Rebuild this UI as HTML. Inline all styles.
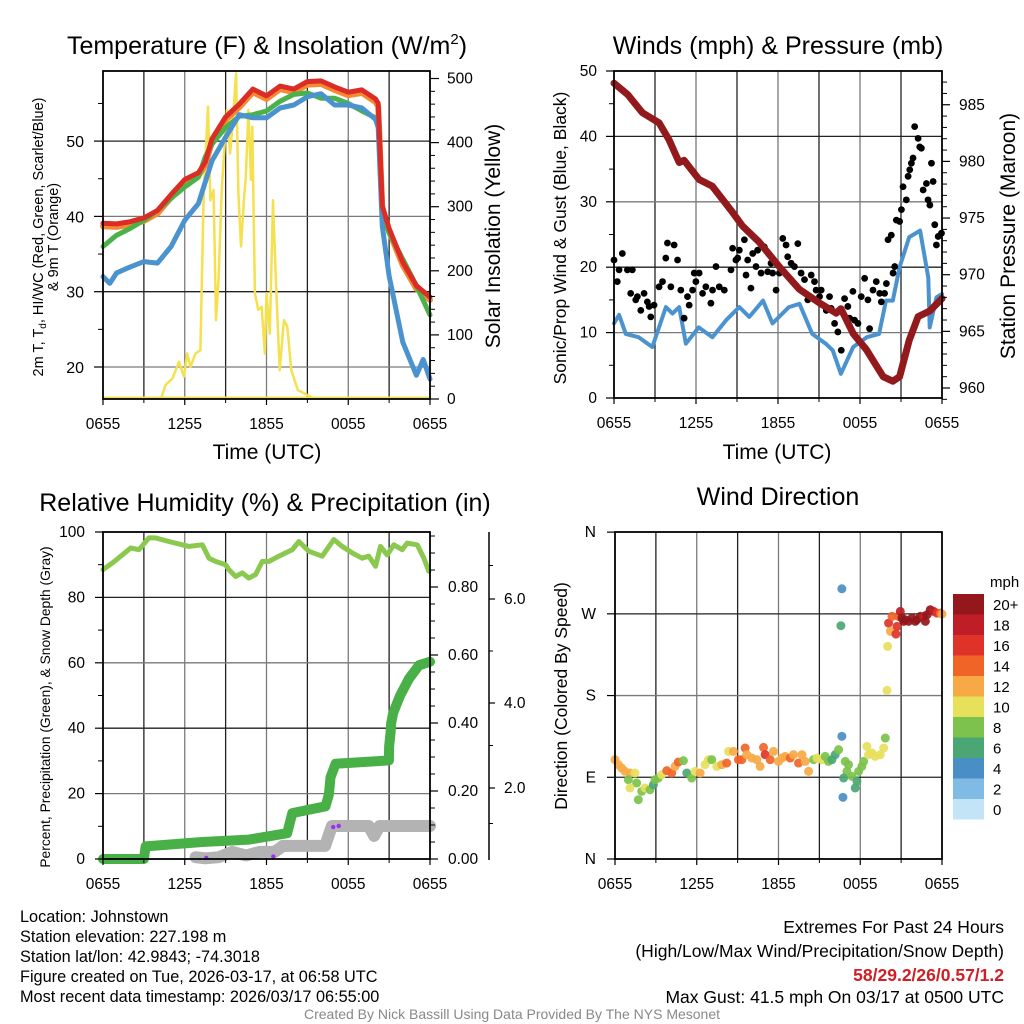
<!DOCTYPE html>
<html><head><meta charset="utf-8"><style>
html,body{margin:0;padding:0;background:#fff;}
svg{display:block;font-family:"Liberation Sans",sans-serif;}
</style></head><body>
<svg id="c" width="1024" height="1024" viewBox="0 0 1024 1024" xmlns="http://www.w3.org/2000/svg"></svg>
<script>
// ===== Panel 1 data: temperature & insolation =====
const tHours = [0,1,2,3,4,5,6,7,7.5,8,9,10,11,12,13,14,15,16,17,18,19,20,20.2,20.5,21,22,23,24];
const tempRed = [39.1,39,39.3,39.8,40.8,42.9,44.9,45.8,47.2,50.3,53.2,54.9,56.9,56,57.3,56.9,57.9,58,57.2,56.5,56.8,55.6,55,41.4,38.4,33.9,30.8,29.3];
const tempGreen = [36,37.5,38.4,39.5,40.8,42.4,43.9,45.2,47.9,49.6,51.8,53.3,53.5,54,55.3,56.2,56.4,55.7,55.7,55,54,53.1,52.6,40.4,37.8,34.3,30.8,26.9];
const dewBlueHours = [0,0.5,1,2,3,4,5,6,7,8,9,10,11,12,13,14,15,16,17,18,19,20,20.2,20.5,21,22,23,23.5,24];
const dewBlue = [32,31.1,32.5,33.3,34,33.8,36,39.5,41.7,47.4,50.5,53.5,53.1,53.1,54.4,54.8,55.9,56.3,54.8,54.8,54.4,52.9,51.8,38.7,32.1,23.3,18.9,21,18.4];
const solarHours = [0,4.24,4.6,5.09,5.58,5.94,6.18,6.42,6.79,7.15,7.39,7.71,7.88,8.12,8.29,8.48,8.73,9.09,9.33,9.5,9.77,9.94,10.13,10.38,10.47,10.67,10.86,10.96,11.15,11.39,11.64,11.88,12.0,12.24,12.48,12.73,12.97,13.28,13.53,13.82,14.3,15.03,15.5,24];
const solar = [0,0,22,32,58,35,71,50,71,76,321,456,310,326,123,186,331,451,383,425,508,321,238,321,342,451,342,425,165,139,144,71,165,102,310,165,45,123,113,45,14,6,0,0];
const tempTicks = [20,30,40,50];
const solarTicks = [0,100,200,300,400,500];
const timeTicks = ["0655","1255","1855","0055","0655"];
// ===== Panel 2 data: winds & pressure =====
const presHours = [0,1,2.08,3.3,4.03,4.77,5.13,6.23,7.2,8.68,9.4,10.6,12.1,13.57,15.04,16.26,16.6,17.5,18.46,19.7,20.4,20.9,21.6,22.25,23.1,24];
const pressure = [986.9,985.9,984.3,983.4,981.9,979.9,980.1,978.4,977.8,975.5,974.3,972.9,970.7,968.7,967.5,966.6,967.0,964.8,963.4,961,960.6,961,964.2,966.3,966.8,967.9];
const windHours = [0,0.37,0.86,1.8,2.8,3.8,4.28,4.77,5.26,6.2,7.2,8.2,9.17,9.9,10.9,11.6,12.8,13.57,14.5,15.5,16,16.6,17.5,18.5,19.4,19.9,20.4,20.9,21.6,22.4,23,23.1,23.6,24];
const windSpeed = [11.4,12.7,9.8,9.3,7.8,13.9,12.9,13.9,8.3,10.8,9.3,11.9,13.9,12.4,14.9,11.4,13.9,14.4,9.8,8.3,7.3,3.7,7.8,9.3,9.8,14.9,14.9,20,24.6,25.6,18.4,10.8,15.4,15.9];
const gustHours = [0,0.24,0.61,0.98,1.34,1.22,1.59,1.96,2.2,2.57,2.69,2.93,3.3,3.55,3.91,4.16,4.4,4.65,4.89,5.13,5.38,5.75,5.99,6.23,6.48,6.72,7.09,7.46,7.7,8.07,8.56,8.68,8.92,9.17,9.54,9.66,10.02,10.15,10.51,10.76,11.0,11.25,11.49,11.86,12.1,12.35,12.59,12.96,13.45,13.69,13.94,14.18,14.43,14.79,15.16,15.53,15.89,16.14,16.38,16.63,16.87,17.11,17.48,17.85,18.09,18.34,18.7,18.95,19.19,19.56,19.8,20.05,20.29,20.42,20.66,20.9,21.15,21.39,21.64,21.88,22.0,22.25,22.49,22.62,22.86,23.11,23.23,23.47,23.72,23.96,0.37,1.71,2.44,3.79,5.5,5.87,7.21,9.05,9.78,10.39,11.61,12.71,13.2,14.67,15.04,15.77,17.24,17.6,18.58,19.44,19.93,20.54,21.03,21.52,21.76,22.37,22.98,23.35,23.59];
const gustSpeed = [21.1,17.8,22.1,19.6,19.6,16.0,15.0,13.4,16.0,14.0,12.4,14.2,17.0,17.8,23.7,17.0,23.4,21.1,16.5,12.2,15.5,16.5,17.8,19.1,16.0,17.0,14.5,20.1,17.0,16.5,19.6,22.9,21.1,22.6,24.2,18.8,16.8,22.1,22.6,19.1,23.1,19.3,20.6,16.5,19.1,24.4,23.4,20.6,23.6,19.1,18.1,15.0,18.8,16.5,16.5,13.4,13.7,11.4,10.1,7.3,15.2,14.0,16.3,11.4,15.5,18.3,10.6,16.5,17.8,14.7,16.0,24.2,24.9,19.1,27.2,27.0,32.3,30.3,34.9,36.7,41.5,39.7,38.2,31.8,32.8,29.5,35.9,26.5,24.7,25.2,19.6,15.5,14.7,21.4,14.2,19.1,16.5,21.4,21.1,20.1,19.1,21.6,20.1,17.8,15.5,15.5,12.2,11.9,15.0,16.0,17.5,20.1,28.8,33.9,35.9,38.4,30.3,33.1,23.4];
const windTicks = [0,10,20,30,40,50];
const presTicks = [960,965,970,975,980,985];
// ===== Panel 3 data: RH, precipitation, snow =====
const rhHours = [0,0.68,1.3,2.03,2.64,3.37,3.86,4.84,5.82,6.31,7.29,7.78,8.26,9.0,9.24,9.73,10.22,10.71,11.2,11.69,12.18,12.91,13.4,13.89,14.38,15.11,16.09,16.94,17.55,18.29,19.02,19.51,20.0,20.37,20.86,21.34,21.96,22.32,23.06,23.55,23.91];
const rh = [88.5,90.5,92.6,95.1,94.6,98.2,98.2,97.1,96.1,95.6,96.1,92,91,90,88.5,86.4,87.5,85.9,87,91,91,92.6,93.6,94.6,97.1,94.1,92.6,97.7,95.6,93.6,92,92.6,89.5,95.6,93,96.1,94.6,96.6,96.1,92,88];
const precipHours = [0,3.0,3.13,7.29,10.71,13.52,13.89,16.33,16.58,16.7,17.07,20.98,21.0,21.1,21.15,21.3,21.8,22.45,23.2,24];
const precip = [0,0,0.037,0.05,0.057,0.076,0.135,0.155,0.19,0.24,0.28,0.29,0.33,0.37,0.40,0.43,0.48,0.53,0.57,0.58];
const snowHours = [6.8,7.5,8.5,9.5,10.5,11.5,12.6,13.2,16.3,16.8,19.5,19.9,20.3,24];
const snowDepth = [0.05,0.02,0.05,0.2,0.1,0.2,0.2,0.37,0.37,0.93,0.93,0.65,0.93,0.93];
const pctTicks = [0,20,40,60,80,100];
const precipTicks = ["0.00","0.20","0.40","0.60","0.80"];
const snowTicks = ["2.0","4.0","6.0"];
// ===== Panel 4 data: wind direction =====
const dirHours = [0,0.24,0.49,0.73,1.1,1.47,0.98,1.59,1.1,1.71,1.96,2.2,2.57,2.82,2.94,3.18,3.43,3.8,4.16,4.41,4.65,5.02,5.27,5.63,5.88,6.25,6.61,6.86,7.1,7.47,7.84,8.2,8.33,8.69,9.06,9.31,9.55,9.67,10.04,10.41,10.65,10.9,11.02,11.39,11.63,12.0,12.25,12.49,12.86,13.1,13.47,13.72,13.96,14.21,14.57,14.82,15.18,15.43,15.67,15.92,16.16,16.41,16.65,16.58,16.65,16.9,17.02,16.78,17.14,17.39,17.63,17.76,17.88,18.12,18.25,18.49,18.61,18.86,19.1,19.47,19.72,19.84,16.73,19.96,20.01,20.08,20.21,20.33,20.62,20.7,20.82,20.94,21.06,21.19,21.31,21.55,21.8,22.04,22.16,22.41,22.65,22.78,22.9,23.14,23.39,23.63,23.88,24];
const dirDeg = [109.4,103.9,100.2,96.5,94.7,94.7,87.3,83.7,78.2,65.3,74.5,78.2,76.3,81.8,87.3,89.2,92.9,97.3,94.7,102,106.8,108.3,94.7,89.2,96.5,94.7,103.9,109.4,109.4,102,103.9,105.7,118.5,118.5,109.4,109.4,122.2,114.9,111.2,109.4,102,122.9,114.9,109.4,118.5,107.5,111.2,113,111.2,114.9,105.7,114.9,107.5,96.5,109.4,111.2,109.4,113,107.5,109.4,114.9,120.4,135.1,256.9,297.6,107.5,96.5,89.2,103.9,91,78.2,85.5,96.5,102,107.5,124,114.9,116.7,113,114.9,122.2,133.2,67.9,185.7,234.1,259.8,250.7,267.2,247.7,256.2,267.2,272.7,265.3,261.7,263.5,261.7,265.3,261.7,263.5,267.2,267.2,261.7,269,274.5,272.7,270.8,270.8,269.7];
const dirSpeed = [12,12,12,12,12,11,8,8,10,8,8,10,8,7,8,8,10,14,15,13,15,8,7,8,10,12,10,10,8,10,12,15,10,12,15,15,15,12,12,12,12,15,17,15,12,12,12,12,14,12,14,13,12,12,8,10,10,8,8,7,7,8,4,6,4,8,8,6,8,8,6,6,8,8,8,10,10,10,10,10,10,8,4,10,10,16,13,14,16,16,14,18,20,20,20,20,20,20,20,20,18,20,20,20,18,16,14,13];
const dirTicks = ["N","E","S","W","N"];
const speedBins = ["0","2","4","6","8","10","12","14","16","18","20+"];
const binColors = ["#c3e4f7","#7fbbe5","#4a8ec6","#4aa774","#7cc24c","#e6e05b","#f7a945","#f16428","#df3329","#c01e26","#93171b"];

const NS="http://www.w3.org/2000/svg";
const svg=document.getElementById('c');
function mk(tag,attrs,parent){const e=document.createElementNS(NS,tag);for(const k in attrs)e.setAttribute(k,attrs[k]);(parent||svg).appendChild(e);return e;}
function txt(s,x,y,size,anchor,parent,extra){const t=mk('text',Object.assign({x:x,y:y,'font-size':size,'text-anchor':anchor||'middle',fill:'#000'},extra||{}),parent);t.textContent=s;return t;}

const TF=15.5; // tick font
const P1={x0:103,x1:430,top:71,bot:399};
const P2={x0:614,x1:942,top:71,bot:398};
const P3={x0:103,x1:430,top:532,bot:859};
const P4={x0:615,x1:942,top:532,bot:859};
function hx(p,h){return p.x0+h/24*(p.x1-p.x0);}
const yTemp=v=>367-(v-20)*7.53;
const ySolar=v=>399-v*0.641;
const yWind=v=>398-v*6.54;
const yPres=v=>388-(v-960)*11.33;
const yPct=v=>859-v*3.27;
const yPrecip=v=>859-v*340;
const snowDom=[0,2,4,6,8], snowRng=[859,788,703,599,532];
function ySnow(v){for(let i=0;i<snowDom.length-1;i++){if(v<=snowDom[i+1]){const f=(v-snowDom[i])/(snowDom[i+1]-snowDom[i]);return snowRng[i]+f*(snowRng[i+1]-snowRng[i]);}}return snowRng[snowRng.length-1];}
const yDir=v=>859-v*0.908;

function frame(p,name,hLines){
  const g=mk('g',{});
  
  
  for(let h=3;h<24;h+=3){mk('line',{x1:hx(p,h),x2:hx(p,h),y1:p.top,y2:p.bot,stroke:(h%6==0)?'#7a7a7a':'#222','stroke-width':1.3},g);}
  hLines.forEach((y,i)=>mk('line',{x1:p.x0,x2:p.x1,y1:y,y2:y,stroke:i%2?'#7a7a7a':'#222','stroke-width':1.3},g));
  return g;
}
function border(p,name){
  const r=mk('rect',{x:p.x0,y:p.top,width:p.x1-p.x0,height:p.bot-p.top,fill:'none',stroke:'#000','stroke-width':1.8});
  
  
}
function xAxis(p,name){
  const g=mk('g',{});
  
  
  timeTicks.forEach((s,i)=>{const x=hx(p,i*6);mk('line',{x1:x,x2:x,y1:p.bot,y2:p.bot+6,stroke:'#000','stroke-width':1.2},g);txt(s,x,p.bot+30,TF,'middle',g);});
  for(let h=3;h<24;h+=6){const x=hx(p,h);mk('line',{x1:x,x2:x,y1:p.bot,y2:p.bot+4,stroke:'#000','stroke-width':1},g);}
  return g;
}
function line(p,hs,vs,ys,color,w,name){
  const pts=hs.map((h,i)=>hx(p,h).toFixed(1)+','+ys(vs[i]).toFixed(1)).join(' ');
  const l=mk('polyline',{points:pts,fill:'none',stroke:color,'stroke-width':w,'stroke-linejoin':'round','stroke-linecap':'round'});
  
  
  return l;
}
function clip(id,p){const c=mk('clipPath',{id:id});mk('rect',{x:p.x0,y:p.top-3,width:p.x1-p.x0,height:p.bot-p.top+3},c);}

// ===== Panel 1 =====
{const t=txt('',267,54,25,'middle');
 t.innerHTML='Temperature (F) &amp; Insolation (W/m<tspan font-size="15" dy="-10">2</tspan><tspan dy="10">)</tspan>';}
frame(P1,'temp',[yTemp(50),yTemp(40),yTemp(30),yTemp(20)]);
clip('c1',P1);
const sl=line(P1,solarHours,solar,ySolar,'#f5e050',2.5,'solar-line'); sl.setAttribute('clip-path','url(#c1)');
mk('line',{x1:P1.x0,x2:P1.x1,y1:P1.bot-1,y2:P1.bot-1,stroke:'#f5e050','stroke-width':3});
line(P1,tHours,tempRed.map(v=>v-0.4),yTemp,'#f68a33',6,'temp-9m-orange');
line(P1,tHours,tempGreen,yTemp,'#4bb24a',5,'hiwc-green-line');
line(P1,dewBlueHours,dewBlue,yTemp,'#4b93ce',5,'dewpoint-blue-line');
line(P1,tHours,tempRed,yTemp,'#dc2c26',5,'temp-2m-red-line');
border(P1,'temp');
xAxis(P1,'temp');
{const g=mk('g',{});
 tempTicks.forEach(v=>{const y=yTemp(v);mk('line',{x1:P1.x0-9,x2:P1.x0,y1:y,y2:y,stroke:'#000','stroke-width':1.2},g);txt(String(v),84,y+6,16,'end',g);});
 [25,35,45,55].forEach(v=>{const y=yTemp(v);mk('line',{x1:P1.x0-5,x2:P1.x0,y1:y,y2:y,stroke:'#000'},g);});}
{const g=mk('g',{});
 solarTicks.forEach(v=>{const y=ySolar(v);mk('line',{x1:P1.x1,x2:P1.x1+9,y1:y,y2:y,stroke:'#000','stroke-width':1.2},g);txt(String(v),447,y+5,TF,'start',g);});
 for(let v=20;v<500;v+=20){if(v%100){const y=ySolar(v);mk('line',{x1:P1.x1,x2:P1.x1+5,y1:y,y2:y,stroke:'#000'},g);}}}
txt('Time (UTC)',267,459,21);
{const t=txt('',0,0,14.5,'middle',null,{transform:'translate(43,237) rotate(-90)'});
 t.innerHTML='2m T, T<tspan font-size="10" dy="3">d</tspan><tspan dy="-3">, HI/WC (Red, Green, Scarlet/Blue)</tspan>';
 const t2=txt('& 9m T (Orange)',0,0,14.5,'middle',null,{transform:'translate(58,237) rotate(-90)'});}
txt('Solar Insolation (Yellow)',0,0,21,'middle',null,{transform:'translate(500,236) rotate(-90)'});

// ===== Panel 2 =====
txt('Winds (mph) & Pressure (mb)',778,54,25);
frame(P2,'winds',[yWind(40),yWind(30),yWind(20),yWind(10)]);
line(P2,windHours,windSpeed,yWind,'#4b93ce',4,'wind-speed-line');
{const g=mk('g',{});
 gustHours.forEach((h,i)=>{const c=mk('circle',{cx:hx(P2,h),cy:yWind(gustSpeed[i]),r:3.4,fill:'#000'},g);});}
line(P2,presHours,pressure,yPres,'#931a1c',7,'pressure-line');
border(P2,'winds');
xAxis(P2,'winds');
{const g=mk('g',{});
 windTicks.forEach(v=>{const y=yWind(v);mk('line',{x1:P2.x0-8,x2:P2.x0,y1:y,y2:y,stroke:'#000','stroke-width':1.2},g);txt(String(v),597,y+5,TF,'end',g);});
 [5,15,25,35,45].forEach(v=>{const y=yWind(v);mk('line',{x1:P2.x0-5,x2:P2.x0,y1:y,y2:y,stroke:'#000'},g);});}
{const g=mk('g',{});
 presTicks.forEach(v=>{const y=yPres(v);mk('line',{x1:P2.x1,x2:P2.x1+8,y1:y,y2:y,stroke:'#000','stroke-width':1.2},g);txt(String(v),959,y+5,TF,'start',g);});
 for(let v=959;v<988;v++){if(v%5){const y=yPres(v);mk('line',{x1:P2.x1,x2:P2.x1+5,y1:y,y2:y,stroke:'#000'},g);}}}
txt('Time (UTC)',777,459,21);
txt('Sonic/Prop Wind & Gust (Blue, Black)',0,0,17.5,'middle',null,{transform:'translate(566,238) rotate(-90)'});
txt('Station Pressure (Maroon)',0,0,21,'middle',null,{transform:'translate(1015,236) rotate(-90)'});

// ===== Panel 3 =====
txt('Relative Humidity (%) & Precipitation (in)',265,511,25);
frame(P3,'rh',[yPct(80),yPct(60),yPct(40),yPct(20)]);
line(P3,rhHours,rh,yPct,'#8bc94e',5,'rh-line');
line(P3,snowHours,snowDepth,ySnow,'#b3b3b3',12,'snow-depth-line');
line(P3,precipHours,precip,yPrecip,'#48b046',10,'precip-line');
{const g=mk('g',{});
 [[7.58,0.03],[12.5,0.07],[16.9,0.9],[17.3,0.93]].forEach(d=>mk('circle',{cx:hx(P3,d[0]),cy:ySnow(d[1]),r:2.2,fill:'#9b30e8'},g));}
border(P3,'rh');
xAxis(P3,'rh');
{const g=mk('g',{});
 pctTicks.forEach(v=>{const y=yPct(v);mk('line',{x1:P3.x0-8,x2:P3.x0,y1:y,y2:y,stroke:'#000','stroke-width':1.2},g);txt(String(v),85,y+5,TF,'end',g);});
 [10,30,50,70,90].forEach(v=>{const y=yPct(v);mk('line',{x1:P3.x0-5,x2:P3.x0,y1:y,y2:y,stroke:'#000'},g);});}
{const g=mk('g',{});
 precipTicks.forEach(s=>{const y=yPrecip(parseFloat(s));mk('line',{x1:P3.x1,x2:P3.x1+8,y1:y,y2:y,stroke:'#000','stroke-width':1.2},g);txt(s,448,y+5,TF,'start',g);});
 for(let v=0.05;v<0.96;v+=0.05){if(Math.round(v*100)%20){const y=yPrecip(v);mk('line',{x1:P3.x1,x2:P3.x1+5,y1:y,y2:y,stroke:'#000'},g);}}}
{const g=mk('g',{});
 mk('line',{x1:489,x2:489,y1:532,y2:860,stroke:'#000','stroke-width':1.5},g);
 snowTicks.forEach(s=>{const y=ySnow(parseFloat(s));mk('line',{x1:489,x2:495,y1:y,y2:y,stroke:'#000','stroke-width':1.2},g);txt(s,504,y+5,TF,'start',g);});
 [1,3,5,7].forEach(v=>{const y=ySnow(v);mk('line',{x1:489,x2:493,y1:y,y2:y,stroke:'#000'},g);});}
txt('Percent, Precipitation (Green), & Snow Depth (Gray)',0,0,13.8,'middle',null,{transform:'translate(50,707) rotate(-90)'});

// ===== Panel 4 =====
txt('Wind Direction',778,505,25);
frame(P4,'dir',[yDir(270),yDir(180),yDir(90)]);
{const g=mk('g',{});
 dirHours.forEach((h,i)=>{const b=Math.min(10,Math.floor(dirSpeed[i]/2));const c=mk('circle',{cx:hx(P4,h),cy:yDir(dirDeg[i]),r:4.5,fill:binColors[b],'fill-opacity':0.92},g);});}
border(P4,'dir');
xAxis(P4,'dir');
{const g=mk('g',{});
 dirTicks.forEach((s,i)=>{const y=yDir(i*90);mk('line',{x1:P4.x0-8,x2:P4.x0,y1:y,y2:y,stroke:'#000','stroke-width':1.2},g);txt(s,596,y+5,TF,'end',g);});}
txt('Direction (Colored By Speed)',0,0,17.5,'middle',null,{transform:'translate(567,696) rotate(-90)'});
{const g=mk('g',{});
 txt('mph',990,587,15,'start',g);
 speedBins.forEach((s,i)=>{const k=10-i;const y=594+k*20.5;const r=mk('rect',{x:953,y:y,width:31,height:20.5,fill:binColors[i]},g);txt(s,993,y+16,15,'start',g);});}

// ===== Footer =====
{const g=mk('g',{});
 ['Location: Johnstown','Station elevation: 227.198 m','Station lat/lon: 42.9843; -74.3018','Figure created on Tue, 2026-03-17, at 06:58 UTC','Most recent data timestamp: 2026/03/17 06:55:00'].forEach((s,i)=>txt(s,20,922+i*20,16.3,'start',g));}
{const g=mk('g',{});
 txt('Extremes For Past 24 Hours',1004,933,17.5,'end',g);
 txt('(High/Low/Max Wind/Precipitation/Snow Depth)',1004,957,17.5,'end',g);
 txt('58/29.2/26/0.57/1.2',1004,981,17.5,'end',g,{fill:'#cf2027','font-weight':'bold'});
 txt('Max Gust: 41.5 mph On 03/17 at 0500 UTC',1004,1003,17.5,'end',g);}
txt('Created By Nick Bassill Using Data Provided By The NYS Mesonet',512,1019,14,'middle',null,{fill:'#888'});
</script>
</body></html>
